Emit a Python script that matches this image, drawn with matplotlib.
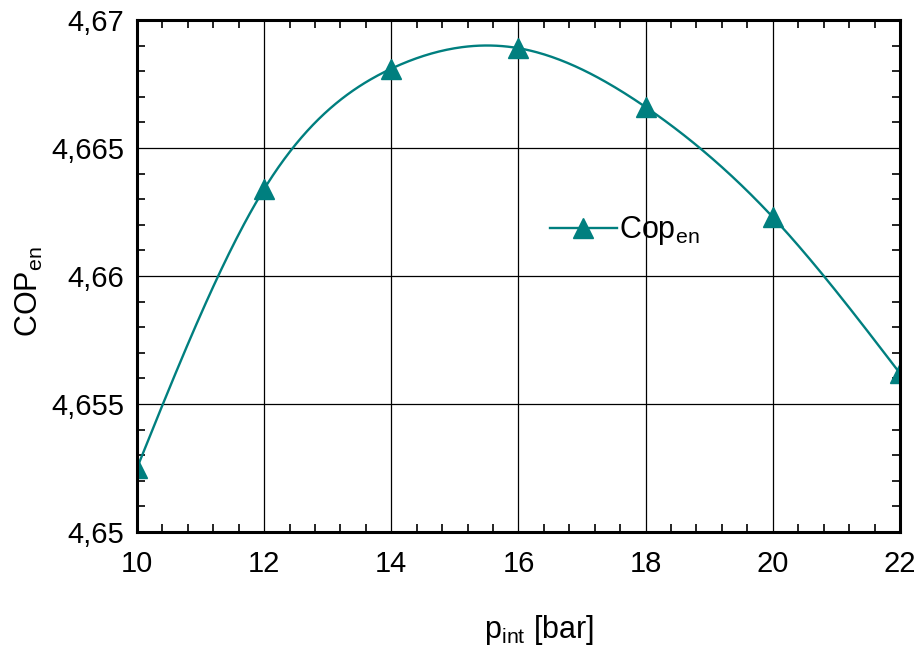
import numpy as np
import matplotlib
matplotlib.use("Agg")
import matplotlib.pyplot as plt
from matplotlib.ticker import MultipleLocator, FuncFormatter

plt.rcParams['font.family'] = ['Liberation Sans', 'DejaVu Sans']

p_int = [10, 12, 14, 16, 18, 20, 22]
cop_en = [4.6525, 4.6634, 4.6681, 4.6689, 4.6666, 4.6623, 4.6562]


def spline(x, y, xs):
    # natural cubic spline, just for drawing the smooth line
    x = np.asarray(x, float)
    y = np.asarray(y, float)
    n = len(x)
    h = np.diff(x)
    A = np.zeros((n, n))
    b = np.zeros(n)
    A[0, 0] = A[-1, -1] = 1
    for i in range(1, n - 1):
        A[i, i - 1] = h[i - 1]
        A[i, i] = 2 * (h[i - 1] + h[i])
        A[i, i + 1] = h[i]
        b[i] = 3 * ((y[i + 1] - y[i]) / h[i] - (y[i] - y[i - 1]) / h[i - 1])
    c = np.linalg.solve(A, b)
    out = []
    for xv in xs:
        i = min(np.searchsorted(x, xv) - 1, n - 2)
        i = max(i, 0)
        dx = xv - x[i]
        bi = (y[i + 1] - y[i]) / h[i] - h[i] * (2 * c[i] + c[i + 1]) / 3
        di = (c[i + 1] - c[i]) / (3 * h[i])
        out.append(y[i] + bi * dx + c[i] * dx ** 2 + di * dx ** 3)
    return np.array(out)


color = '#007f7f'
fig = plt.figure(figsize=(9.17, 6.5), dpi=100)
ax = fig.add_axes([0.1494, 0.1815, 0.832, 0.7877])

xs = np.linspace(p_int[0], p_int[-1], 400)
ax.plot(xs, spline(p_int, cop_en, xs), color=color, lw=1.7)
ax.plot(p_int, cop_en, ls='none', marker='^', ms=15, color=color)
# legend proxy
ax.plot([], [], color=color, lw=1.7, marker='^', ms=15, label='Cop$_{\\mathregular{en}}$')

ax.set_xlim(10, 22)
ax.set_ylim(4.65, 4.67)
ax.xaxis.set_major_locator(MultipleLocator(2))
ax.xaxis.set_minor_locator(MultipleLocator(0.4))
ax.yaxis.set_major_locator(MultipleLocator(0.005))
ax.yaxis.set_minor_locator(MultipleLocator(0.001))
ax.yaxis.set_major_formatter(FuncFormatter(lambda v, pos: ('%g' % round(v, 4)).replace('.', ',')))
ax.tick_params(which='both', direction='in', top=True, right=True, labelsize=21, width=1.2)
ax.tick_params(which='major', length=0, pad=9)
ax.tick_params(axis='x', which='major', pad=13)
ax.tick_params(which='minor', length=6)
ax.grid(True, which='major', color='black', lw=0.9)
for s in ax.spines.values():
    s.set_linewidth(2.2)

ax.set_xlabel('p$_{\\mathregular{int}}$ [bar]', fontsize=22)
ax.set_ylabel('COP$_{\\mathregular{en}}$', fontsize=22)
ax.xaxis.set_label_coords(0.527, -0.158)
ax.yaxis.set_label_coords(-0.12, 0.47)

leg = ax.legend(loc='center left', bbox_to_anchor=(0.541, 0.588), frameon=False,
                fontsize=22, handlelength=2.2, handletextpad=0.05, borderpad=0, borderaxespad=0)

fig.savefig('out.png', dpi=100)
